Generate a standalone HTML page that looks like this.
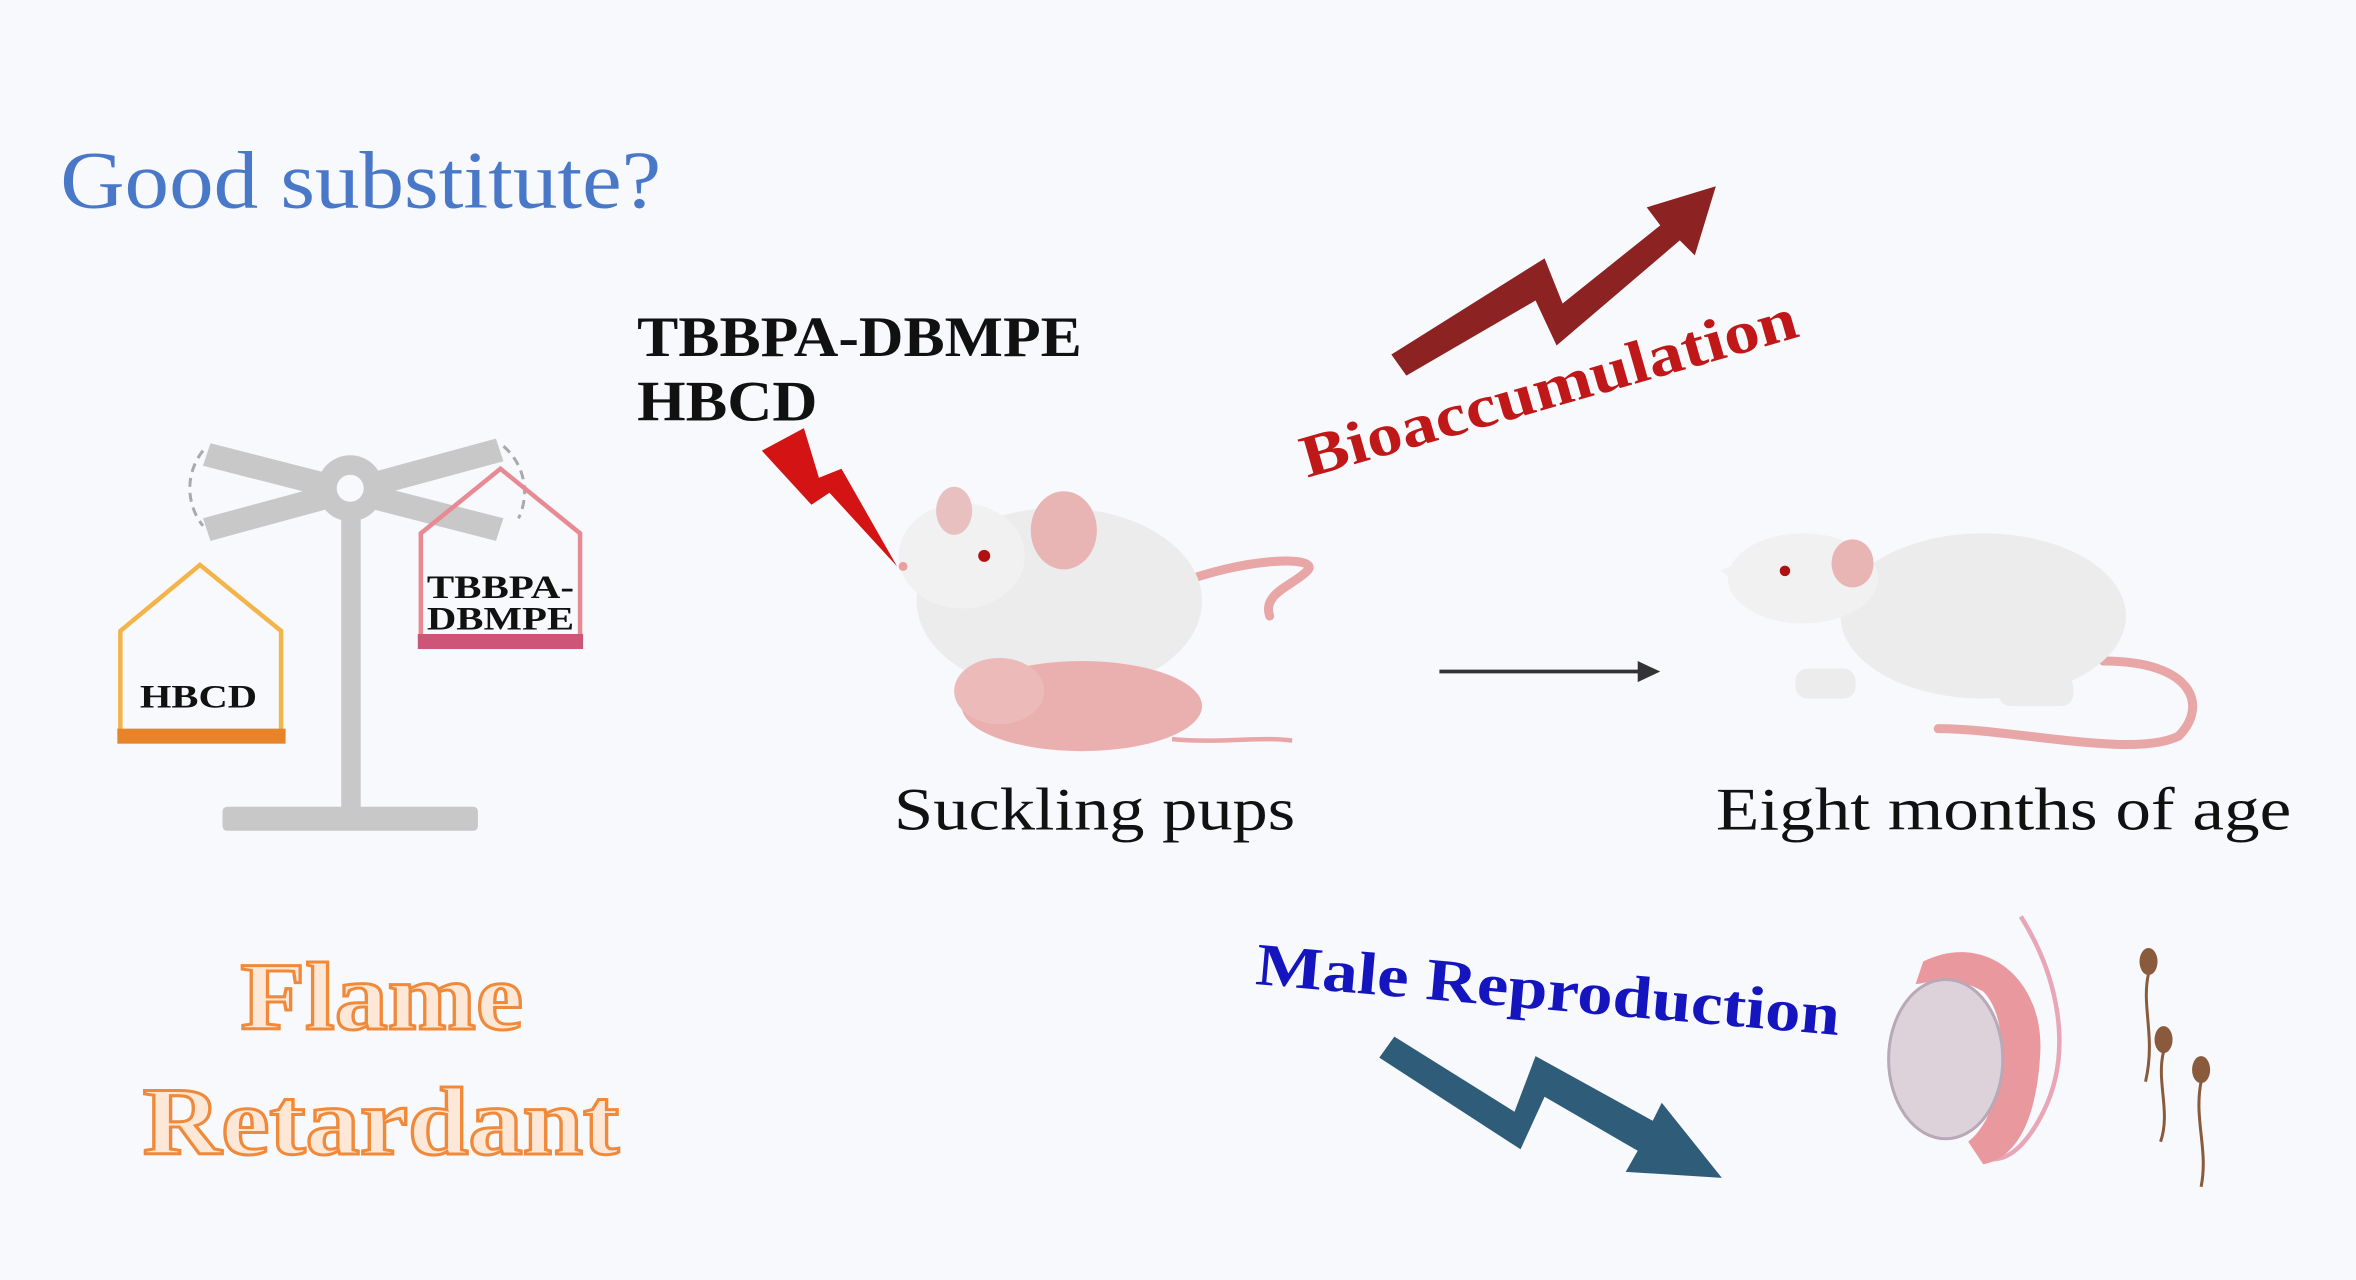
<!DOCTYPE html>
<html><head><meta charset="utf-8"><style>
html,body{margin:0;padding:0;background:#f7f9fd;}
svg{display:block}
</style></head><body>
<svg width="2356" height="1280" viewBox="0 0 1568 852" xmlns="http://www.w3.org/2000/svg">
<rect width="1568" height="852" fill="#f7f9fd"/>
<text x="40" y="138" font-family="Liberation Serif,serif" font-size="54" fill="#4a78c8" textLength="400" lengthAdjust="spacingAndGlyphs">Good substitute?</text>
<text x="424" y="237" font-family="Liberation Serif,serif" font-weight="bold" font-size="38" fill="#111" textLength="296" lengthAdjust="spacingAndGlyphs">TBBPA-DBMPE</text>
<text x="424" y="280" font-family="Liberation Serif,serif" font-weight="bold" font-size="38" fill="#111" textLength="120" lengthAdjust="spacingAndGlyphs">HBCD</text>
<polygon points="507,300 535,285 545,318 560,312 597,377 552,328 540,336" fill="#d41414"/>
<!-- scale -->
<g fill="#c8c8c8" stroke="none">
<rect x="227" y="325" width="13" height="215"/>
<rect x="148" y="537" width="170" height="16" rx="3"/>
<polygon points="140,295 335,345 330,360 135,310"/>
<polygon points="135,345 330,292 335,307 140,360"/>
<circle cx="233" cy="325" r="22"/>
</g>
<circle cx="233" cy="325" r="9" fill="#f7f9fd"/>
<path d="M135,300 A40,40 0 0 0 135,350" fill="none" stroke="#aaa" stroke-width="2" stroke-dasharray="6,4"/>
<path d="M335,297 A40,40 0 0 1 345,345" fill="none" stroke="#aaa" stroke-width="2" stroke-dasharray="6,4"/>
<path d="M80,488 L80,420 L133,376 L187,420 L187,488" fill="none" stroke="#f3b54a" stroke-width="3"/>
<rect x="78" y="485" width="112" height="10" fill="#e8832a"/>
<text x="93" y="471" font-family="Liberation Serif,serif" font-weight="bold" font-size="22" fill="#111" textLength="78" lengthAdjust="spacingAndGlyphs">HBCD</text>
<path d="M280,425 L280,355 L333,312 L386,355 L386,425" fill="none" stroke="#e88a94" stroke-width="3"/>
<rect x="278" y="422" width="110" height="10" fill="#cc5578"/>
<text x="284" y="398" font-family="Liberation Serif,serif" font-weight="bold" font-size="22" fill="#111" textLength="98" lengthAdjust="spacingAndGlyphs">TBBPA-</text>
<text x="284" y="419" font-family="Liberation Serif,serif" font-weight="bold" font-size="22" fill="#111" textLength="98" lengthAdjust="spacingAndGlyphs">DBMPE</text>
<g font-family="Liberation Serif,serif" font-weight="bold" font-size="64" fill="#fde8d8" stroke="#f08a3a" stroke-width="2">
<text x="160" y="685" textLength="188" lengthAdjust="spacingAndGlyphs">Flame</text>
<text x="95" y="768" textLength="317" lengthAdjust="spacingAndGlyphs">Retardant</text>
</g>
<!-- mother mouse -->
<path d="M780,390 C830,370 880,370 870,380 C860,390 840,395 845,410" fill="none" stroke="#e8a6a6" stroke-width="6" stroke-linecap="round"/>
<ellipse cx="705" cy="400" rx="95" ry="62" fill="#ececec"/>
<ellipse cx="640" cy="370" rx="42" ry="35" fill="#f1f1f1"/>
<polygon points="600,378 625,345 640,390" fill="#f1f1f1"/>
<ellipse cx="708" cy="353" rx="22" ry="26" fill="#e8b4b4"/>
<ellipse cx="635" cy="340" rx="12" ry="16" fill="#e8c0c0"/>
<circle cx="655" cy="370" r="4" fill="#b01010"/>
<circle cx="601" cy="377" r="3" fill="#e8a0a0"/>
<!-- pup -->
<path d="M780,492 C810,495 840,490 860,493" fill="none" stroke="#e8a6a6" stroke-width="3"/>
<ellipse cx="720" cy="470" rx="80" ry="30" fill="#eab0b0"/>
<ellipse cx="665" cy="460" rx="30" ry="22" fill="#edbaba"/>
<text x="595" y="552" font-family="Liberation Serif,serif" font-size="40" fill="#111" textLength="267" lengthAdjust="spacingAndGlyphs">Suckling pups</text>
<line x1="958" y1="447" x2="1092" y2="447" stroke="#333" stroke-width="2.5"/>
<polygon points="1105,447 1090,440 1090,454" fill="#333"/>
<!-- adult mouse -->
<path d="M1400,440 C1460,440 1470,470 1450,490 C1420,505 1340,485 1290,485" fill="none" stroke="#e8a6a6" stroke-width="6" stroke-linecap="round"/>
<ellipse cx="1320" cy="410" rx="95" ry="55" fill="#ececec"/>
<ellipse cx="1200" cy="385" rx="50" ry="30" fill="#f1f1f1"/>
<polygon points="1145,380 1190,360 1190,410" fill="#f1f1f1"/>
<ellipse cx="1233" cy="375" rx="14" ry="16" fill="#e8b4b4"/>
<circle cx="1188" cy="380" r="3.5" fill="#b01010"/>
<rect x="1195" y="445" width="40" height="20" rx="8" fill="#ececec"/>
<rect x="1330" y="450" width="50" height="20" rx="8" fill="#ececec"/>
<text x="1142" y="552" font-family="Liberation Serif,serif" font-size="40" fill="#111" textLength="383" lengthAdjust="spacingAndGlyphs">Eight months of age</text>
<!-- bioaccumulation -->
<polygon points="926,236 1028,172 1040,202 1105,150 1096,138 1142,124 1128,170 1118,160 1036,230 1022,200 936,250" fill="#8c2222"/>
<text transform="translate(870,318) rotate(-16)" font-family="Liberation Serif,serif" font-weight="bold" font-size="40" fill="#c01818" textLength="342" lengthAdjust="spacingAndGlyphs">Bioaccumulation</text>
<!-- male reproduction -->
<text transform="translate(835,655) rotate(5)" font-family="Liberation Serif,serif" font-weight="bold" font-size="40" fill="#1515c0" textLength="390" lengthAdjust="spacingAndGlyphs">Male Reproduction</text>
<polygon points="918,704 928,690 1008,740 1022,703 1100,746 1106,734 1146,784 1082,780 1090,766 1028,730 1012,765" fill="#2f5c78"/>
<!-- testis -->
<path d="M1345,610 C1370,650 1380,700 1360,740 C1345,770 1330,775 1318,770" fill="none" stroke="#e8a6b6" stroke-width="3"/>
<path d="M1280,640 C1320,620 1360,650 1358,700 C1356,740 1345,770 1320,775 L1310,760 C1335,740 1340,680 1320,660 C1300,648 1280,655 1275,655 Z" fill="#e9999e"/>
<ellipse cx="1295" cy="705" rx="38" ry="53" fill="#ddd2da" stroke="#b8a8b8" stroke-width="2"/>
<g fill="#8a5a3c">
<ellipse cx="1430" cy="640" rx="6" ry="9"/><ellipse cx="1440" cy="692" rx="6" ry="9"/><ellipse cx="1465" cy="712" rx="6" ry="9"/>
</g>
<g fill="none" stroke="#8a5a3c" stroke-width="2">
<path d="M1430,648 C1425,670 1435,690 1428,720"/>
<path d="M1440,700 C1435,720 1445,740 1438,760"/>
<path d="M1465,720 C1460,745 1470,765 1465,790"/>
</g>
</svg>
</body></html>
